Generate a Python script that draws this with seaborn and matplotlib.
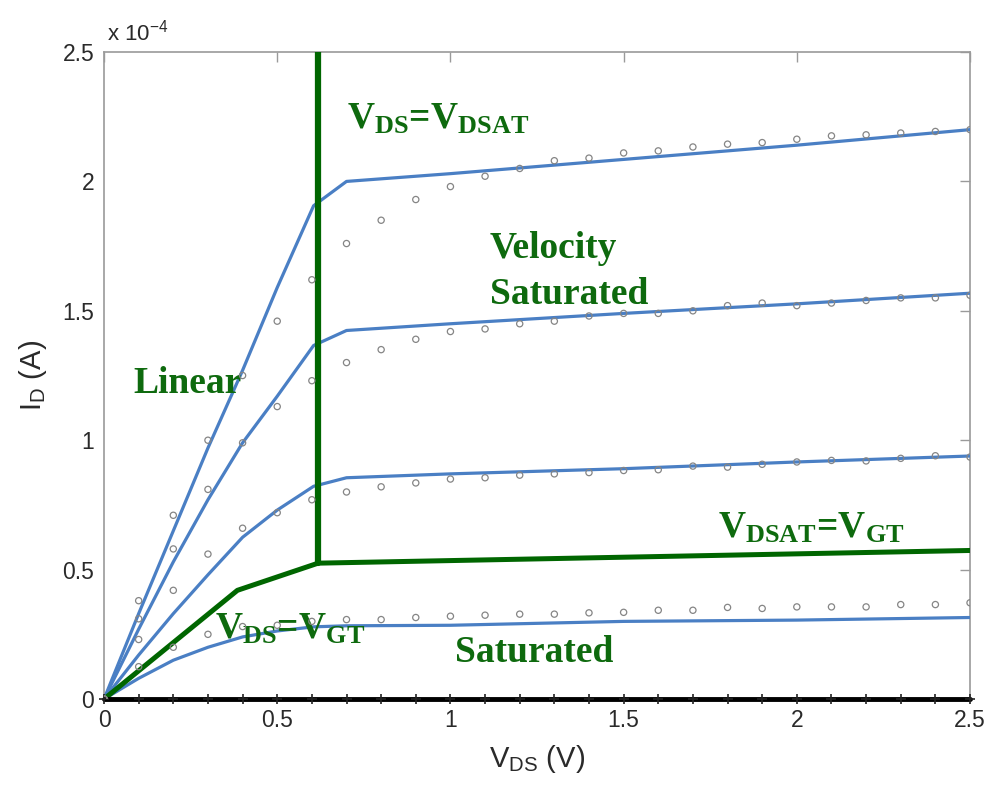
import numpy as np
import pandas as pd
import seaborn as sns
import matplotlib.pyplot as plt

# ---------------------- Data (I_D in units of 1e-4 A) ----------------------
V_DS = [0.0, 0.1, 0.2, 0.3, 0.4, 0.5, 0.6, 0.7, 0.8, 0.9, 1.0, 1.1, 1.2,
        1.3, 1.4, 1.5, 1.6, 1.7, 1.8, 1.9, 2.0, 2.1, 2.2, 2.3, 2.4, 2.5]

# measured points (open circles)
meas_1 = [0, 0.38, 0.71, 1.00, 1.25, 1.46, 1.62, 1.76, 1.85, 1.93, 1.98, 2.02, 2.05,
          2.08, 2.09, 2.11, 2.118, 2.133, 2.144, 2.15, 2.163, 2.176, 2.18, 2.187, 2.193, 2.20]
meas_2 = [0, 0.31, 0.58, 0.81, 0.99, 1.13, 1.23, 1.30, 1.35, 1.39, 1.42, 1.43, 1.45,
          1.46, 1.48, 1.49, 1.49, 1.50, 1.52, 1.53, 1.52, 1.53, 1.54, 1.55, 1.55, 1.56]
meas_3 = [0, 0.23, 0.42, 0.56, 0.66, 0.72, 0.77, 0.80, 0.82, 0.835, 0.85, 0.855, 0.865,
          0.87, 0.875, 0.883, 0.886, 0.90, 0.896, 0.907, 0.916, 0.922, 0.92, 0.93, 0.94, 0.935]
meas_4 = [0, 0.125, 0.20, 0.25, 0.28, 0.285, 0.30, 0.307, 0.307, 0.315, 0.32, 0.324, 0.328,
          0.328, 0.333, 0.335, 0.343, 0.343, 0.354, 0.35, 0.356, 0.356, 0.356, 0.365, 0.365, 0.372]
meas_0 = [0.0] * len(V_DS)

# model curves (blue lines)
model_x = [0, 0.1, 0.2, 0.3, 0.4, 0.5, 0.605, 0.7, 1.0, 1.5, 2.0, 2.5]
model_1 = [0, 0.33, 0.65, 0.97, 1.27, 1.59, 1.906, 2.0, 2.03, 2.085, 2.14, 2.20]
model_2 = [0, 0.27, 0.53, 0.77, 0.99, 1.17, 1.366, 1.424, 1.45, 1.49, 1.527, 1.568]
model_3 = [0, 0.17, 0.33, 0.48, 0.625, 0.73, 0.822, 0.855, 0.87, 0.89, 0.916, 0.939]
model_4 = [0, 0.08, 0.15, 0.20, 0.24, 0.263, 0.279, 0.283, 0.285, 0.30, 0.305, 0.315]

# region boundaries (green)
vgt_x = [0, 0.385, 0.618, 1.5, 2.5]
vgt_y = [0, 0.42, 0.525, 0.548, 0.574]
vdsat_x = [0.618, 0.618]
vdsat_y = [0.525, 2.5]

ticks = [0, 0.5, 1, 1.5, 2, 2.5]
tick_labels = ["0", "0.5", "1", "1.5", "2", "2.5"]

# ---------------------- Style ----------------------
sns.set_style("white")
plt.rcParams["font.family"] = ["Liberation Sans", "DejaVu Sans"]
plt.rcParams["mathtext.fontset"] = "custom"
plt.rcParams["mathtext.rm"] = "Liberation Sans"
plt.rcParams["mathtext.bf"] = "Liberation Serif:bold"

BLUE = "#4a7fc4"
GREEN = "#006600"
TXT_GREEN = "#0e6a0e"
GRAY = "#9a9a9a"
DARK = "#2a2a2a"

fig = plt.figure(figsize=(9.87, 7.88), dpi=100)
ax = fig.add_axes([0.1054, 0.1129, 0.8774, 0.8211])

models = pd.DataFrame({"x": model_x, "c1": model_1, "c2": model_2, "c3": model_3, "c4": model_4})
for col in ["c1", "c2", "c3", "c4"]:
    sns.lineplot(data=models, x="x", y=col, ax=ax, color=BLUE, lw=2.3,
                 estimator=None, sort=False, zorder=3)

sns.lineplot(x=vgt_x, y=vgt_y, ax=ax, color=GREEN, lw=3.6, estimator=None,
             sort=False, zorder=4)
sns.lineplot(x=vdsat_x, y=vdsat_y, ax=ax, color=GREEN, lw=4.5, estimator=None,
             sort=False, zorder=4)

# zero-current curve
sns.lineplot(x=V_DS, y=meas_0, ax=ax, color="black", lw=3.5, marker="+",
             markersize=7, markeredgewidth=1.2, markeredgecolor="#222222",
             estimator=None, zorder=5, clip_on=False)

meas = pd.DataFrame({"x": V_DS * 4,
                     "y": meas_1 + meas_2 + meas_3 + meas_4})
sns.scatterplot(data=meas, x="x", y="y", ax=ax, marker="o", s=20,
                facecolor="none", edgecolor="#858585", linewidth=0.9, zorder=6)

# ---------------------- Annotations ----------------------
tk = dict(color=TXT_GREEN, fontsize=27, family=["Liberation Serif"], fontweight="bold")
ax.text(0.70, 2.205, r"$\mathbf{V_{DS}}$=$\mathbf{V_{DSAT}}$", **tk)
ax.text(1.114, 1.705, "Velocity", **tk)
ax.text(1.114, 1.528, "Saturated", **tk)
ax.text(0.084, 1.184, "Linear", **tk)
ax.text(1.772, 0.625, r"$\mathbf{V_{DSAT}}$=$\mathbf{V_{GT}}$", **tk)
ax.text(0.32, 0.235, r"$\mathbf{V_{DS}}$=$\mathbf{V_{GT}}$", **tk)
ax.text(1.013, 0.143, "Saturated", **tk)

ax.text(0.01, 2.525, r"x 10$^{-4}$", fontsize=16, color=DARK, va="bottom")

# ---------------------- Axes ----------------------
ax.set_xlim(0, 2.5)
ax.set_ylim(0, 2.5)
ax.set_xticks(ticks)
ax.set_xticklabels(tick_labels)
ax.set_yticks(ticks)
ax.set_yticklabels(tick_labels)
ax.tick_params(direction="in", length=7, width=1, color=GRAY, labelsize=16.5,
               labelcolor=DARK, top=True, right=True, pad=7)
for s in ax.spines.values():
    s.set_color(GRAY)
    s.set_linewidth(1.2)
ax.set_xlabel(r"$\mathrm{V_{DS}}$ (V)", fontsize=21, color=DARK, labelpad=8)
ax.set_ylabel(r"$\mathrm{I_D}$ (A)", fontsize=21, color=DARK, labelpad=10)

fig.savefig("out.png", dpi=100)
